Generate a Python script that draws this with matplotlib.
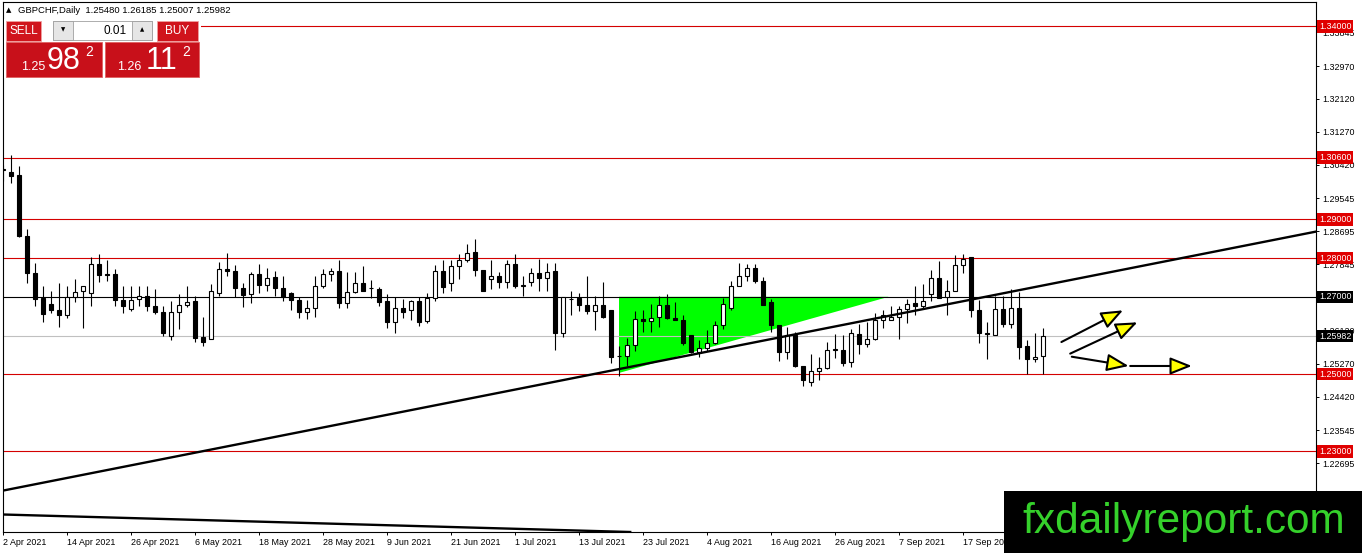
import matplotlib
matplotlib.use("Agg")
import matplotlib.pyplot as plt
from matplotlib.patches import Rectangle, Polygon
import numpy as np

plt.rcParams["font.family"] = ["Liberation Sans", "DejaVu Sans"]

W, H = 1362, 553

# GBPCHF daily bars, 2 Apr 2021 .. 1 Oct 2021 (one value per bar)
opens = [1.3028, 1.3022, 1.3014, 1.2858, 1.2762, 1.2697, 1.2682, 1.2666, 1.2653, 1.2700,
         1.2716, 1.2710, 1.2784, 1.2760, 1.2760, 1.2692, 1.2669, 1.2695, 1.2701, 1.2676,
         1.2661, 1.2599, 1.2660, 1.2679, 1.2688, 1.2595, 1.2591, 1.2709, 1.2773, 1.2768,
         1.2723, 1.2708, 1.2760, 1.2731, 1.2752, 1.2723, 1.2711, 1.2692, 1.2661, 1.2671,
         1.2728, 1.2760, 1.2768, 1.2684, 1.2712, 1.2735, 1.2724, 1.2721, 1.2688, 1.2634,
         1.2671, 1.2666, 1.2690, 1.2637, 1.2696, 1.2768, 1.2735, 1.2779, 1.2794, 1.2817,
         1.2770, 1.2746, 1.2755, 1.2738, 1.2785, 1.2729, 1.2738, 1.2762, 1.2749, 1.2766,
         1.2606, 1.2694, 1.2696, 1.2680, 1.2663, 1.2680, 1.2665, 1.2546, 1.2546, 1.2576,
         1.2643, 1.2637, 1.2649, 1.2680, 1.2646, 1.2640, 1.2600, 1.2558, 1.2567, 1.2581,
         1.2626, 1.2671, 1.2729, 1.2755, 1.2775, 1.2742, 1.2686, 1.2626, 1.2558, 1.2600,
         1.2522, 1.2479, 1.2509, 1.2516, 1.2563, 1.2563, 1.2531, 1.2604, 1.2578, 1.2591,
         1.2639, 1.2640, 1.2649, 1.2669, 1.2683, 1.2677, 1.2706, 1.2749, 1.2699, 1.2716,
         1.2783, 1.2804, 1.2666, 1.2606, 1.2600, 1.2669, 1.2630, 1.2671, 1.2572, 1.2539,
         1.25480]
highs = [1.3040, 1.3066, 1.3038, 1.2876, 1.2788, 1.2727, 1.2716, 1.2736, 1.2727, 1.2745,
         1.2729, 1.2803, 1.2811, 1.2794, 1.2771, 1.2727, 1.2729, 1.2729, 1.2729, 1.2719,
         1.2677, 1.2688, 1.2708, 1.2729, 1.2703, 1.2647, 1.2734, 1.2790, 1.2814, 1.2781,
         1.2736, 1.2764, 1.2784, 1.2775, 1.2766, 1.2753, 1.2712, 1.2699, 1.2692, 1.2755,
         1.2773, 1.2775, 1.2794, 1.2764, 1.2764, 1.2779, 1.2744, 1.2725, 1.2708, 1.2699,
         1.2695, 1.2692, 1.2699, 1.2709, 1.2781, 1.2794, 1.2794, 1.2810, 1.2837, 1.2850,
         1.2770, 1.2796, 1.2764, 1.2796, 1.2810, 1.2755, 1.2775, 1.2798, 1.2787, 1.2787,
         1.2699, 1.2714, 1.2709, 1.2753, 1.2703, 1.2738, 1.2665, 1.2574, 1.2594, 1.2663,
         1.2666, 1.2682, 1.2703, 1.2708, 1.2686, 1.2652, 1.2600, 1.2589, 1.2613, 1.2637,
         1.2696, 1.2742, 1.2787, 1.2785, 1.2785, 1.2751, 1.2695, 1.2628, 1.2621, 1.2608,
         1.2522, 1.2552, 1.2544, 1.2582, 1.2604, 1.2602, 1.2617, 1.2630, 1.2634, 1.2658,
         1.2666, 1.2677, 1.2677, 1.2695, 1.2727, 1.2732, 1.2770, 1.2792, 1.2744, 1.2807,
         1.2811, 1.2804, 1.2692, 1.2634, 1.2701, 1.2701, 1.2721, 1.2712, 1.2589, 1.2606,
         1.26185]
lows = [1.3000, 1.2994, 1.2855, 1.2735, 1.2676, 1.2634, 1.2658, 1.2621, 1.2646, 1.2686,
        1.2619, 1.2676, 1.2738, 1.2740, 1.2677, 1.2658, 1.2663, 1.2676, 1.2663, 1.2656,
        1.2599, 1.2589, 1.2617, 1.2673, 1.2584, 1.2574, 1.2591, 1.2703, 1.2755, 1.2699,
        1.2673, 1.2683, 1.2711, 1.2716, 1.2703, 1.2689, 1.2666, 1.2646, 1.2643, 1.2647,
        1.2723, 1.2740, 1.2672, 1.2672, 1.2709, 1.2716, 1.2697, 1.2675, 1.2620, 1.2606,
        1.2646, 1.2639, 1.2624, 1.2632, 1.2689, 1.2709, 1.2715, 1.2747, 1.2790, 1.2755,
        1.2715, 1.2721, 1.2723, 1.2723, 1.2723, 1.2703, 1.2729, 1.2715, 1.2715, 1.2563,
        1.2595, 1.2654, 1.2663, 1.2656, 1.2613, 1.2646, 1.2528, 1.2496, 1.2522, 1.2559,
        1.2610, 1.2608, 1.2621, 1.2643, 1.2639, 1.2576, 1.2554, 1.2545, 1.2561, 1.2578,
        1.2617, 1.2666, 1.2727, 1.2740, 1.2736, 1.2679, 1.2608, 1.2535, 1.2539, 1.2519,
        1.2468, 1.2468, 1.2485, 1.2512, 1.2542, 1.2522, 1.2519, 1.2552, 1.2571, 1.2589,
        1.2620, 1.2639, 1.2591, 1.2632, 1.2652, 1.2669, 1.2690, 1.2697, 1.2652, 1.2716,
        1.2762, 1.2649, 1.2580, 1.2539, 1.2600, 1.2623, 1.2620, 1.2539, 1.2499, 1.2531,
        1.25007]
closes = [1.3030, 1.3013, 1.2857, 1.2761, 1.2695, 1.2656, 1.2666, 1.2653, 1.2700, 1.2713,
          1.2729, 1.2785, 1.2757, 1.2756, 1.2692, 1.2676, 1.2692, 1.2701, 1.2676, 1.2660,
          1.2606, 1.2661, 1.2679, 1.2686, 1.2593, 1.2584, 1.2714, 1.2773, 1.2766, 1.2723,
          1.2704, 1.2760, 1.2731, 1.2749, 1.2723, 1.2699, 1.2692, 1.2660, 1.2671, 1.2728,
          1.2760, 1.2766, 1.2684, 1.2712, 1.2735, 1.2716, 1.2723, 1.2687, 1.2634, 1.2671,
          1.2660, 1.2688, 1.2634, 1.2696, 1.2766, 1.2725, 1.2779, 1.2794, 1.2813, 1.2770,
          1.2716, 1.2755, 1.2738, 1.2785, 1.2727, 1.2730, 1.2761, 1.2749, 1.2764, 1.2606,
          1.2699, 1.2695, 1.2680, 1.2663, 1.2680, 1.2647, 1.2544, 1.2546, 1.2576, 1.2643,
          1.2637, 1.2646, 1.2679, 1.2645, 1.2640, 1.2580, 1.2556, 1.2568, 1.2581, 1.2626,
          1.2682, 1.2729, 1.2755, 1.2775, 1.2740, 1.2680, 1.2626, 1.2556, 1.2602, 1.2522,
          1.2486, 1.2507, 1.2516, 1.2563, 1.2564, 1.2528, 1.2607, 1.2578, 1.2591, 1.2639,
          1.2654, 1.2649, 1.2669, 1.2682, 1.2677, 1.2688, 1.2749, 1.2697, 1.2714, 1.2783,
          1.2798, 1.2666, 1.2607, 1.2605, 1.2669, 1.2630, 1.2670, 1.2571, 1.2539, 1.2544,
          1.25982]

date_labels = ["2 Apr 2021", "14 Apr 2021", "26 Apr 2021", "6 May 2021", "18 May 2021",
               "28 May 2021", "9 Jun 2021", "21 Jun 2021", "1 Jul 2021", "13 Jul 2021",
               "23 Jul 2021", "4 Aug 2021", "16 Aug 2021", "26 Aug 2021", "7 Sep 2021",
               "17 Sep 2021"]
bars_per_label = 8

# 1.26995 sits under the 1.27000 tag in the original, so it is left out
price_ticks = [1.33845, 1.32970, 1.32120, 1.31270, 1.30420, 1.29545, 1.28695, 1.27845,
               1.26120, 1.25270, 1.24420, 1.23545, 1.22695, 1.21845]

red_levels = [1.34, 1.306, 1.29, 1.28, 1.25, 1.23]
black_level = 1.27
bid_price = 1.25982

# drawing objects, (bar index, price)
trend_up = [(-0.4, 1.2197), (164.2, 1.2869)]
trend_low = [(-0.4, 1.2137), (81.0, 1.2090)]
triangle = [(77.0, 1.2700), (77.0, 1.2503), (110.7, 1.2700)]
arrows = [((132.3, 1.2583), (140.0, 1.2665)),
          ((133.4, 1.2553), (141.8, 1.2634)),
          ((133.6, 1.2545), (140.7, 1.2521)),
          ((140.9, 1.2521), (148.6, 1.2521))]

fig = plt.figure(figsize=(W / 100, H / 100), dpi=100)
ax = fig.add_axes([2.5 / W, 1 - 532 / H, (1316 - 2.5) / W, (532 - 2) / H])
ax.set_xlim(-0.0625, 164.125)
ax.set_ylim(1.20915, 1.34627)

for s in ax.spines.values():
    s.set_linewidth(0.8)
    s.set_color("black")

# background objects
ax.add_patch(Polygon(triangle, closed=True, facecolor="#00ff00", edgecolor="none", zorder=1))
for lv in red_levels:
    ax.axhline(lv, color="#d40000", lw=0.8, zorder=2)
ax.axhline(black_level, color="black", lw=0.8, zorder=2)
ax.axhline(bid_price, color="#c0c0c0", lw=0.8, zorder=2)

# candles
for i in range(len(opens)):
    o, h, l, c = opens[i], highs[i], lows[i], closes[i]
    ax.vlines(i, l, h, color="black", lw=0.8, zorder=3)
    fc = "white" if c >= o else "black"
    ax.add_patch(Rectangle((i - 0.25, min(o, c)), 0.5, abs(c - o),
                           facecolor=fc, edgecolor="black", lw=0.8, zorder=4))

ax.axline(trend_up[0], trend_up[1], color="black", lw=1.7, zorder=5)
ax.axline(trend_low[0], trend_low[1], color="black", lw=1.7, zorder=5)

for start, end in arrows:
    ax.annotate("", xy=end, xytext=start,
                arrowprops=dict(arrowstyle="-|>,head_length=0.95,head_width=0.38",
                                mutation_scale=14, fc="#ffff00", ec="black", lw=1.5,
                                shrinkA=0, shrinkB=0), zorder=6)

# axes ticks, MetaTrader style
ax.yaxis.tick_right()
ax.set_yticks(price_ticks)
ax.set_yticklabels([f"{p:.5f}" for p in price_ticks])
ax.tick_params(axis="y", direction="out", length=2.5, width=0.7, labelsize=6.4, pad=2)
ax.set_xticks(np.arange(len(date_labels)) * bars_per_label)
ax.set_xticklabels(date_labels, ha="left")
ax.tick_params(axis="x", direction="out", length=2.5, width=0.7, labelsize=6.4, pad=1.5)

# price tags on the right scale
tags = [(lv, "#e00000") for lv in red_levels] + [(black_level, "black"), (bid_price, "black")]
for lv, col in tags:
    ax.annotate(f"{lv:.5f}", xy=(1, lv), xycoords=("axes fraction", "data"),
                xytext=(2.2, 0), textcoords="offset points", va="center", ha="left",
                fontsize=6.4, color="white", annotation_clip=False, zorder=8,
                bbox=dict(boxstyle="square,pad=0.2", fc=col, ec="none"))

# overlay in pixel coordinates: header, trade panel, watermark
ov = fig.add_axes([0, 0, 1, 1], zorder=10)
ov.set_xlim(0, W)
ov.set_ylim(H, 0)
ov.axis("off")
ov.patch.set_alpha(0)

ov.text(6, 10.5, "\u25b2", fontsize=5, va="center", ha="left", family=["DejaVu Sans"])
ov.text(18, 10.5, "GBPCHF,Daily  1.25480 1.26185 1.25007 1.25982", fontsize=6.8,
        va="center", ha="left")

ov.add_patch(Rectangle((4, 19), 197, 59, fc="white", ec="none"))
red_btn = "#d0141c"
ov.add_patch(Rectangle((6, 20.5), 35, 20, fc=red_btn, ec="#f0a0a0", lw=0.6))
ov.text(23.5, 30.5, "SELL", color="white", fontsize=8.5, ha="center", va="center")
ov.add_patch(Rectangle((157, 20.5), 41, 20, fc=red_btn, ec="#f0a0a0", lw=0.6))
ov.text(177.5, 30.5, "BUY", color="white", fontsize=8.5, ha="center", va="center")
ov.add_patch(Rectangle((53, 20.5), 99, 19.5, fc="white", ec="#a0a0a0", lw=0.6))
ov.add_patch(Rectangle((53, 20.5), 20, 19.5, fc="#e6e6e6", ec="#a0a0a0", lw=0.6))
ov.add_patch(Rectangle((132, 20.5), 20, 19.5, fc="#e6e6e6", ec="#a0a0a0", lw=0.6))
ov.text(63, 30, "\u25bc", fontsize=4, ha="center", va="center", family=["DejaVu Sans"])
ov.text(142, 30, "\u25b2", fontsize=4, ha="center", va="center", family=["DejaVu Sans"])
ov.text(127, 30.5, "0.01", fontsize=8.5, ha="right", va="center")

box_red = "#c8101a"
ov.add_patch(Rectangle((6, 41.5), 95.5, 35, fc=box_red, ec="#e06060", lw=0.6))
ov.add_patch(Rectangle((105, 41.5), 93.5, 35, fc=box_red, ec="#e06060", lw=0.6))
ov.text(21, 70, "1.25", color="white", fontsize=9, ha="left", va="baseline")
ov.text(47, 69, "98", color="white", fontsize=22, ha="left", va="baseline")
ov.text(85, 55.5, "2", color="white", fontsize=10, ha="left", va="baseline")
ov.text(117, 70, "1.26", color="white", fontsize=9, ha="left", va="baseline")
ov.text(146, 69, "11", color="white", fontsize=22, ha="left", va="baseline")
ov.text(182, 55.5, "2", color="white", fontsize=10, ha="left", va="baseline")

ov.add_patch(Rectangle((1004, 491), W - 1004, H - 491, fc="black", ec="none"))
ov.text(1022, 533, "fxdailyreport.com", color="#35d12b", fontsize=30.5,
        ha="left", va="baseline")

fig.savefig("out.png", dpi=100)
